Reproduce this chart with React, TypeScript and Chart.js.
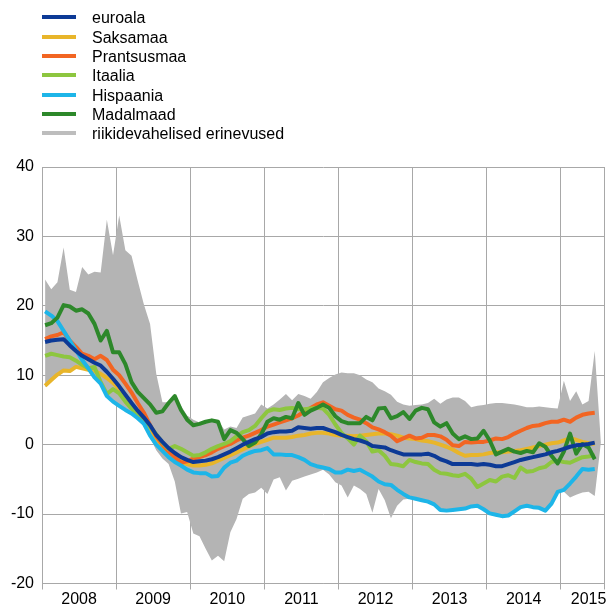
import React, { useEffect, useRef } from "react";
import { Chart, registerables } from "chart.js";

Chart.register(...registerables);

// Monthly data, Jan 2008 – Jun 2015 (index 0 = Jan 2008)
const euroala = [14.8, 15.0, 15.1, 15.2, 14.3, 13.5, 12.8, 12.3, 11.8, 11.4,
  10.5, 9.5, 8.4, 7.2, 6.0, 4.9, 3.9, 2.8, 1.4, 0.4,
  -0.5, -1.2, -1.8, -2.2, -2.5, -2.4, -2.3, -2.1, -1.8, -1.4,
  -1.0, -0.5, 0.0, 0.4, 0.8, 1.1, 1.6, 1.8, 1.9, 1.9,
  2.0, 2.5, 2.4, 2.3, 2.4, 2.4, 2.1, 1.8, 1.4, 1.1,
  0.8, 0.6, 0.3, -0.2, -0.3, -0.4, -0.8, -1.1, -1.4, -1.4,
  -1.4, -1.4, -1.3, -1.6, -2.1, -2.4, -2.8, -2.8, -2.8, -2.8,
  -2.9, -2.8, -2.9, -3.1, -3.1, -2.8, -2.5, -2.2, -2.0, -1.8,
  -1.6, -1.4, -1.1, -0.9, -0.6, -0.3, -0.1, 0.0, 0.1, 0.3];

const saksamaa = [8.5, 9.3, 10.1, 10.7, 10.6, 11.2, 11.0, 10.8, 10.6, 10.2,
  9.6, 8.9, 8.0, 7.0, 5.8, 4.6, 3.5, 2.3, 0.9, -0.2,
  -1.1, -1.9, -2.4, -2.8, -3.0, -3.0, -2.9, -2.7, -2.3, -1.9,
  -1.5, -1.1, -0.7, -0.3, 0.1, 0.4, 0.7, 1.0, 1.0, 1.0,
  1.1, 1.3, 1.4, 1.6, 1.7, 1.7, 1.6, 1.4, 1.3, 1.3,
  1.2, 1.3, 1.4, 1.5, 1.6, 1.6, 1.5, 1.3, 1.0, 0.9,
  0.8, 0.6, 0.5, 0.3, 0.0, -0.3, -0.7, -1.2, -1.6, -1.5,
  -1.5, -1.4, -1.2, -1.1, -1.1, -1.0, -0.9, -0.8, -0.6, -0.4,
  -0.2, 0.0, 0.2, 0.3, 0.6, 0.9, 0.7, 0.4, 0.2, 0.1];

const prantsusmaa = [15.2, 15.6, 15.8, 16.2, 15.0, 14.1, 13.1, 12.8, 12.3, 12.8,
  12.2, 10.8, 10.0, 8.8, 7.5, 6.0, 4.6, 2.8, 1.2, 0.0,
  -1.0, -1.8, -2.6, -2.4, -2.0, -1.8, -1.5, -1.1, -0.6, -0.2,
  0.1, 0.6, 1.0, 1.3, 1.7, 2.1, 2.6, 2.9, 3.2, 3.5,
  3.8, 4.2, 4.8, 5.3, 5.8, 6.1, 5.6, 5.1, 4.9, 4.3,
  3.9, 3.6, 3.1, 2.5, 2.2, 1.8, 1.3, 0.5, 0.9, 1.3,
  0.9, 1.0, 1.4, 1.4, 1.2, 0.7, -0.1, -0.2, 0.4, 0.3,
  0.4, 0.4, 0.6, 0.9, 0.8, 1.1, 1.6, 2.0, 2.4, 2.7,
  2.8, 3.1, 3.3, 3.3, 3.6, 3.3, 3.9, 4.3, 4.5, 4.6];

const itaalia = [12.8, 13.1, 12.9, 12.7, 12.6, 12.1, 11.5, 11.0, 11.2, 9.0,
  7.3, 8.0, 7.4, 6.2, 5.2, 4.4, 3.7, 2.6, 1.5, 0.3,
  -0.6, -0.2, -0.6, -1.1, -1.6, -1.5, -1.1, -0.6, -0.2, 0.1,
  0.5, 1.2, 1.8, 2.1, 2.7, 3.8, 4.8, 5.1, 5.0, 5.2,
  5.3, 5.1, 5.1, 5.2, 5.3, 5.2, 4.3, 2.9, 1.7, 0.9,
  0.0, 1.3, 0.5, -1.0, -0.8, -1.6, -2.8, -2.9, -3.1, -2.2,
  -2.5, -2.7, -2.8, -3.6, -4.1, -4.2, -4.4, -4.5, -4.2, -4.9,
  -6.1, -5.6, -5.1, -5.3, -4.6, -4.4, -4.8, -3.3, -3.9, -3.8,
  -3.4, -3.2, -2.5, -2.3, -2.5, -2.6, -2.2, -1.8, -1.7, -1.5];

const hispaania = [19.2, 18.6, 17.8, 16.4, 15.0, 13.6, 12.2, 11.0, 9.7, 8.8,
  7.0, 6.2, 5.6, 5.0, 4.5, 3.8, 3.0, 1.3, 0.0, -0.9,
  -1.8, -2.5, -3.0, -3.6, -4.0, -4.1, -4.1, -4.6, -4.5, -3.3,
  -2.6, -2.3, -1.6, -1.2, -0.9, -0.8, -0.5, -1.4, -1.4, -1.5,
  -1.5, -1.8, -2.2, -2.8, -3.1, -3.3, -3.5, -4.0, -4.0, -3.6,
  -3.8, -3.6, -4.1, -4.6, -5.3, -5.7, -5.8, -6.5, -7.1, -7.6,
  -7.8, -8.0, -8.2, -8.6, -9.4, -9.5, -9.4, -9.3, -9.2, -8.9,
  -8.8, -9.3, -9.9, -10.1, -10.3, -10.2, -9.6, -9.0, -8.8, -9.0,
  -9.1, -9.5, -8.5, -6.8, -6.5, -5.6, -4.6, -3.5, -3.6, -3.5];

const madalmaad = [17.2, 17.5, 18.3, 20.1, 19.9, 19.3, 19.5, 18.9, 17.4, 15.0,
  16.4, 13.3, 13.3, 11.6, 9.0, 7.6, 6.7, 5.8, 4.6, 4.8,
  6.0, 7.0, 5.0, 3.6, 2.8, 3.0, 3.3, 3.5, 3.3, 0.8,
  2.1, 1.7, 0.8, -0.2, 0.3, 1.5, 3.3, 3.8, 3.6, 4.0,
  3.8, 6.0, 4.3, 4.9, 5.3, 5.8, 5.3, 4.1, 3.4, 3.1,
  3.1, 3.1, 4.0, 3.5, 5.2, 5.3, 3.8, 4.1, 4.7, 3.7,
  4.9, 5.3, 5.1, 3.2, 2.6, 3.1, 1.6, 0.8, 1.2, 0.8,
  0.9, 2.0, 0.6, -1.4, -1.0, -0.6, -1.0, -1.2, -0.9, -1.1,
  0.2, -0.3, -1.6, -2.7, -1.0, 1.6, -1.3, 0.1, -0.4, -2.1];

// Country dispersion band (max / min), Jan 2008 – Jul 2015
const bandUpper = [23.8, 22.4, 23.4, 28.4, 22.3, 22.0, 25.6, 24.5, 24.9, 24.8,
  32.4, 27.3, 33.0, 28.0, 27.2, 23.6, 20.2, 17.4, 10.2, 6.1,
  6.1, 7.2, 5.6, 4.2, 3.6, 3.2, 3.4, 3.7, 3.5, 2.2,
  2.6, 2.4, 3.9, 4.2, 4.5, 5.8, 5.2, 5.8, 6.5, 7.3,
  6.4, 7.3, 7.0, 6.6, 7.6, 9.0, 9.6, 10.1, 10.4, 10.3,
  10.3, 10.0, 9.4, 9.0, 8.1, 7.7, 7.2, 6.2, 5.8, 5.6,
  5.7, 5.8, 6.0, 6.6, 5.9, 6.5, 6.8, 6.8, 6.3, 5.4,
  5.6, 5.7, 5.9, 6.0, 6.0, 5.9, 5.8, 5.6, 5.4, 5.4,
  5.5, 5.4, 5.3, 5.2, 9.2, 6.3, 7.7, 5.8, 6.3, 13.5,
  0.3];

const bandLower = [8.3, 9.1, 9.9, 10.5, 10.4, 11.0, 10.8, 10.6, 9.5, 8.6,
  6.8, 6.0, 5.4, 4.8, 4.3, 3.6, 2.7, 1.0, -0.8, -2.0,
  -2.8, -5.3, -9.9, -9.7, -12.8, -13.2, -15.0, -16.7, -16.0, -16.8,
  -12.6, -10.7, -7.8, -7.1, -6.9, -6.2, -7.1, -5.0, -4.7, -6.6,
  -5.2, -4.9, -4.6, -4.3, -4.0, -3.6, -4.3, -5.4, -5.9, -7.6,
  -5.9, -6.4, -7.1, -9.8, -6.4, -8.0, -10.6, -8.8, -7.9, -7.8,
  -8.0, -8.2, -8.4, -8.8, -9.6, -9.7, -9.6, -9.5, -9.4, -9.1,
  -9.0, -9.5, -10.1, -10.3, -10.5, -10.4, -9.8, -9.2, -9.0, -9.2,
  -9.3, -9.7, -8.7, -6.9, -6.8, -7.6, -7.2, -6.9, -6.8, -7.4,
  0.3];

const yearLabels = ["2008", "2009", "2010", "2011", "2012", "2013", "2014", "2015"];
const yearLabelMonths = [6, 18, 30, 42, 54, 66, 78, 88.5];
const yearBoundaryMonths = [0, 12, 24, 36, 48, 60, 72, 84, 91];
const yTicks = [-20, -10, 0, 10, 20, 30, 40];

const bandLabel = "riikidevahelised erinevused";
const seriesLabels = ["euroala", "Saksamaa", "Prantsusmaa", "Itaalia", "Hispaania", "Madalmaad"];
const seriesValues = [euroala, saksamaa, prantsusmaa, itaalia, hispaania, madalmaad];
const seriesColors = ["#0d3a96", "#e8b52a", "#f26522", "#8dc63f", "#1db5e8", "#2d882a"];
const seriesOrder = [0, 5, 4, 3, 2, 1];
const bandColor = "#b4b4b4";
const legendBandColor = "#bdbdbd";
const gridColor = "#a8a8a8";
const FONT = "'Liberation Sans', Arial, sans-serif";

const toPoints = (arr: number[]) => arr.map((v, i) => ({ x: i + 0.5, y: v }));

export default function App() {
  const canvasRef = useRef<HTMLCanvasElement | null>(null);

  useEffect(() => {
    document.body.style.margin = "0";
    const canvas = canvasRef.current;
    if (!canvas) return;

    const lineSets = seriesLabels.map((label, k) => ({
      label,
      data: toPoints(seriesValues[k]),
      borderColor: seriesColors[k],
      backgroundColor: seriesColors[k],
      borderWidth: 4,
      pointRadius: 0,
      pointHoverRadius: 0,
      fill: false,
      tension: 0,
      borderJoinStyle: "round" as const,
      order: seriesOrder[k],
    }));

    const isBoundary = (v: number | undefined) =>
      v !== undefined && yearBoundaryMonths.indexOf(v) >= 0;

    const chart = new Chart(canvas, {
      type: "line",
      data: {
        datasets: [
          ...lineSets,
          {
            label: bandLabel,
            data: toPoints(bandUpper),
            borderWidth: 0,
            borderColor: "rgba(0,0,0,0)",
            backgroundColor: bandColor,
            pointRadius: 0,
            fill: "+1",
            tension: 0,
            order: 10,
          },
          {
            label: "band-lower",
            data: toPoints(bandLower),
            borderWidth: 0,
            borderColor: "rgba(0,0,0,0)",
            backgroundColor: bandColor,
            pointRadius: 0,
            fill: false,
            tension: 0,
            order: 11,
          },
        ] as any,
      },
      options: {
        animation: false,
        responsive: true,
        maintainAspectRatio: false,
        events: [],
        layout: { padding: { top: 167, right: 5, bottom: 0, left: 0 } },
        plugins: {
          legend: { display: false },
          tooltip: { enabled: false },
        },
        scales: {
          x: {
            type: "linear",
            min: 0,
            max: 91,
            afterBuildTicks: (scale: any) => {
              const vals = [...yearBoundaryMonths, ...yearLabelMonths].sort((a, b) => a - b);
              scale.ticks = vals.map((v) => ({ value: v }));
            },
            afterFit: (scale: any) => {
              scale.height = 27.5;
            },
            grid: {
              color: (ctx: any) => (isBoundary(ctx.tick?.value) ? gridColor : "rgba(0,0,0,0)"),
              tickColor: (ctx: any) => (isBoundary(ctx.tick?.value) ? gridColor : "rgba(0,0,0,0)"),
              tickLength: 6,
              lineWidth: 1,
              drawTicks: true,
            },
            border: { display: true, color: gridColor },
            ticks: {
              autoSkip: false,
              maxRotation: 0,
              minRotation: 0,
              padding: 0,
              color: "#000",
              font: { size: 16, family: FONT },
              callback: (value: any) => {
                const idx = yearLabelMonths.indexOf(Number(value));
                return idx >= 0 ? yearLabels[idx] : "";
              },
            },
          },
          y: {
            type: "linear",
            min: -20,
            max: 40,
            afterBuildTicks: (scale: any) => {
              scale.ticks = yTicks.map((v) => ({ value: v }));
            },
            afterFit: (scale: any) => {
              scale.width = 42;
            },
            grid: { color: gridColor, drawTicks: false, lineWidth: 1 },
            border: { display: true, color: gridColor },
            ticks: {
              padding: 8,
              color: "#000",
              font: { size: 16, family: FONT },
            },
          },
        },
      } as any,
    });

    return () => chart.destroy();
  }, []);

  const legendItems = [
    ...seriesLabels.map((l, k) => ({ label: l, color: seriesColors[k] })),
    { label: bandLabel, color: legendBandColor },
  ];

  return (
    <div style={{ position: "fixed", left: 0, top: 0, width: 609, height: 611, background: "#fff" }}>
      <canvas ref={canvasRef} />
      {legendItems.map((it, k) => {
        const cy = 17.3 + 19.33 * k;
        return (
          <div
            key={it.label}
            style={{
              position: "absolute",
              left: 42,
              top: cy - 10,
              height: 20,
              display: "flex",
              alignItems: "center",
              whiteSpace: "nowrap",
            }}
          >
            <span style={{ display: "inline-block", width: 34, height: 4, background: it.color }} />
            <span
              style={{
                marginLeft: 16,
                font: `16px ${FONT}`,
                lineHeight: "20px",
                color: "#000",
                position: "relative",
                top: 1.2,
              }}
            >
              {it.label}
            </span>
          </div>
        );
      })}
    </div>
  );
}
